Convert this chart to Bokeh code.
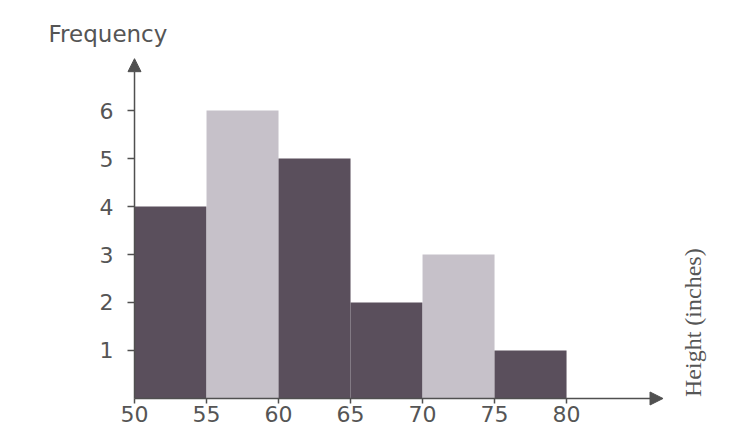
import numpy as np
from bokeh.plotting import figure
from bokeh.models import Range1d, FixedTicker, Arrow, NormalHead, Label
from bokeh.embed import file_html
from bokeh.resources import INLINE

# data
bin_edges = [50, 55, 60, 65, 70, 75, 80]
frequency = [4, 6, 5, 2, 3, 1]
x_ticks = [50, 55, 60, 65, 70, 75, 80]
y_ticks = [1, 2, 3, 4, 5, 6]
y_title = "Frequency"
x_title = "Height (inches)"

DARK = "#5a4f5c"
LIGHT = "#c6c1c9"
AXIS = "#505050"
bar_colors = [DARK, LIGHT, DARK, DARK, LIGHT, DARK]

p = figure(width=739, height=429, output_backend="svg", toolbar_location=None,
           x_range=Range1d(40.694, 92.01), y_range=Range1d(-0.646, 8.292),
           min_border=0, min_border_left=0, min_border_right=0,
           min_border_top=0, min_border_bottom=0)
p.background_fill_color = "white"
p.border_fill_color = "white"
p.outline_line_color = None
p.grid.visible = False

p.quad(left=bin_edges[:-1], right=bin_edges[1:], bottom=0, top=frequency,
       fill_color=bar_colors, line_color=None)

# axes at fixed data positions
xa = p.xaxis[0]
xa.fixed_location = 0
xa.ticker = FixedTicker(ticks=x_ticks)
xa.axis_line_color = None
xa.major_tick_out = 5
xa.major_tick_in = 0
xa.minor_tick_line_color = None
xa.major_tick_line_color = AXIS
xa.major_tick_line_width = 1.5
xa.major_label_standoff = 3
xa.major_label_text_font = "DejaVu Sans"
xa.major_label_text_font_size = "22px"
xa.major_label_text_color = "#555555"

ya = p.yaxis[0]
ya.fixed_location = 50
ya.ticker = FixedTicker(ticks=y_ticks)
ya.axis_line_color = None
ya.major_tick_out = 7
ya.major_tick_in = 0
ya.minor_tick_line_color = None
ya.major_tick_line_color = AXIS
ya.major_tick_line_width = 1.5
ya.major_label_standoff = 14
ya.major_label_text_font = "DejaVu Sans"
ya.major_label_text_font_size = "22px"
ya.major_label_text_color = "#555555"

# arrowed axis lines
p.add_layout(Arrow(x_start=50, y_start=0, x_end=86.7, y_end=0,
                   line_color=AXIS, line_width=1.5,
                   end=NormalHead(size=13, fill_color=AXIS, line_color=AXIS)))
p.add_layout(Arrow(x_start=50, y_start=0, x_end=50, y_end=7.08,
                   line_color=AXIS, line_width=1.5,
                   end=NormalHead(size=13, fill_color=AXIS, line_color=AXIS)))

p.add_layout(Label(x=44.03, y=7.6, text=y_title, text_font="DejaVu Sans",
                   text_font_size="23px", text_color="#555555",
                   text_align="left", text_baseline="middle"))
p.add_layout(Label(x=88.8, y=1.58, text=x_title, text_font="Liberation Serif",
                   text_font_size="24px", text_color="#555555", angle=np.pi / 2,
                   text_align="center", text_baseline="middle"))

open("out.html", "w").write(file_html(p, INLINE))
